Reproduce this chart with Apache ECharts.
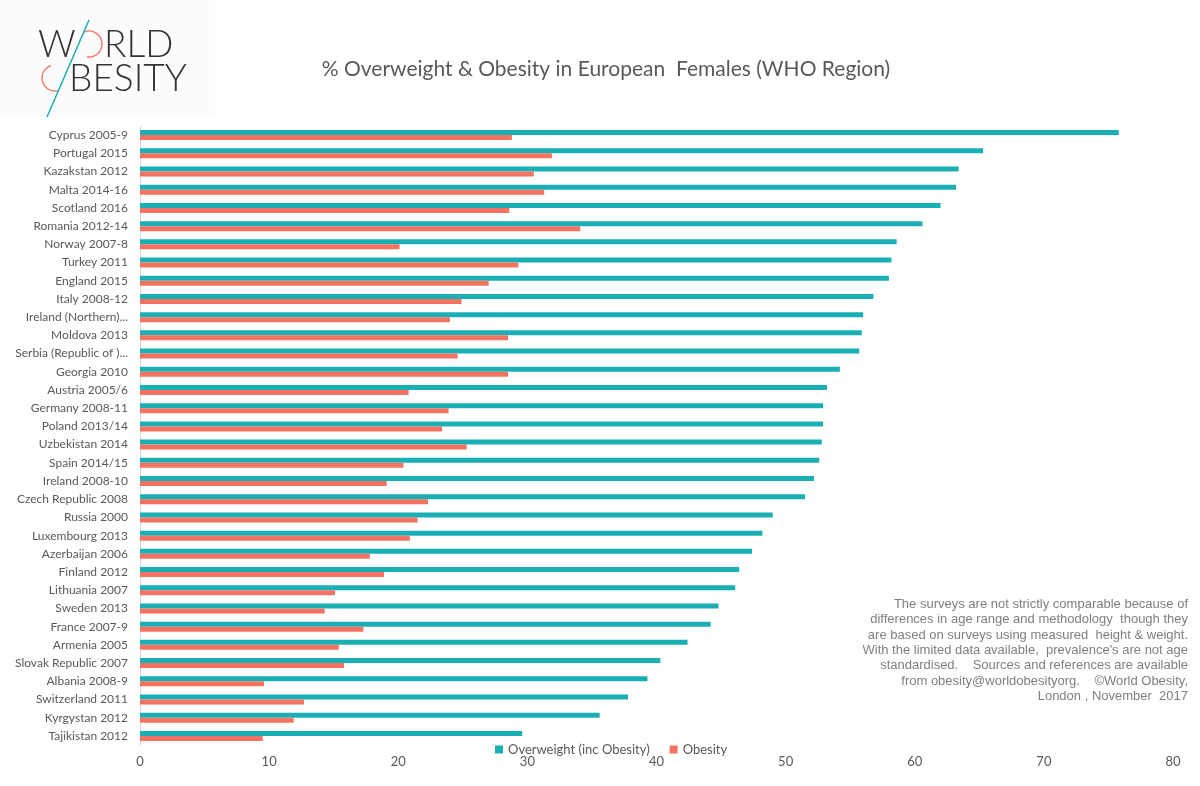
<!DOCTYPE html>
<html><head><meta charset="utf-8">
<script src="https://cdn.jsdelivr.net/npm/echarts@6/dist/echarts.min.js"></script>
<style>html,body{margin:0;padding:0;background:#fff}#c{width:1200px;height:786px}</style>
</head><body><div id="c"></div>
<script>
const categories = ["Cyprus 2005-9","Portugal 2015","Kazakstan 2012","Malta 2014-16","Scotland 2016","Romania 2012-14","Norway 2007-8","Turkey 2011","England 2015","Italy 2008-12","Ireland (Northern)...","Moldova 2013","Serbia (Republic of )...","Georgia 2010","Austria 2005/6","Germany 2008-11","Poland 2013/14","Uzbekistan 2014","Spain 2014/15","Ireland 2008-10","Czech Republic 2008","Russia 2000","Luxembourg 2013","Azerbaijan 2006","Finland 2012","Lithuania 2007","Sweden 2013","France 2007-9","Armenia 2005","Slovak Republic 2007","Albania 2008-9","Switzerland 2011","Kyrgystan 2012","Tajikistan 2012"];
const overweight = [75.8,65.3,63.4,63.2,62.0,60.6,58.6,58.2,58.0,56.8,56.0,55.9,55.7,54.2,53.2,52.9,52.9,52.8,52.6,52.2,51.5,49.0,48.2,47.4,46.4,46.1,44.8,44.2,42.4,40.3,39.3,37.8,35.6,29.6];
const obesity = [28.8,31.9,30.5,31.3,28.6,34.1,20.1,29.3,27.0,24.9,24.0,28.5,24.6,28.5,20.8,23.9,23.4,25.3,20.4,19.1,22.3,21.5,20.9,17.8,18.9,15.1,14.3,17.3,15.4,15.8,9.6,12.7,11.9,9.5];
const xTicks = [0,10,20,30,40,50,60,70,80];
const seriesNames = ["Overweight (inc Obesity)","Obesity"];
const titleText = "% Overweight & Obesity in European  Females (WHO Region)";
const noteLines = ["The surveys are not strictly comparable because of","differences in age range and methodology  though they","are based on surveys using measured  height & weight.","With the limited data available,  prevalence's are not age","standardised.    Sources and references are available","from obesity@worldobesityorg.    ©World Obesity,","London , November  2017"];

const teal = '#1AAFB5', salmon = '#F47262', grey = '#595959';
const noteGraphics = noteLines.map((t, i) => ({type: 'text', x: 1188, y: 598 + i * 15.3,
  style: {text: t, font: '13px "Liberation Sans"', fill: '#7f7f7f', align: 'right', verticalAlign: 'top'}}));
const chart = echarts.init(document.getElementById('c'));
chart.setOption({
  backgroundColor: '#fff',
  animation: false,
  title: {text: titleText, left: 601, top: 54, textAlign: 'center',
    textStyle: {fontFamily: 'Lato', fontSize: 21, fontWeight: 'normal', color: grey}},
  legend: {data: seriesNames, left: 490, top: 738, itemWidth: 8, itemHeight: 8, itemGap: 20, icon: 'rect',
    textStyle: {fontFamily: 'Lato', fontSize: 13, color: grey}},
  grid: {left: 140, right: 27, top: 126, bottom: 41},
  xAxis: {type: 'value', min: 0, max: 80, interval: 10,
    axisLine: {show: false}, axisTick: {show: false}, splitLine: {show: false},
    axisLabel: {color: grey, fontFamily: 'Lato', fontSize: 13, margin: 10,
      formatter: v => xTicks.includes(v) ? String(v) : ''}},
  yAxis: {type: 'category', data: categories, inverse: true,
    axisLine: {show: true, lineStyle: {color: '#d9d9d9'}}, axisTick: {show: false},
    axisLabel: {color: grey, fontFamily: 'Lato', fontSize: 12, margin: 12}},
  series: [
    {name: seriesNames[0], type: 'bar', data: overweight, barWidth: 5, barGap: '0%', itemStyle: {color: teal}},
    {name: seriesNames[1], type: 'bar', data: obesity, barWidth: 5, barGap: '0%', itemStyle: {color: salmon}}
  ],
  graphic: [
    {type: 'rect', shape: {x: 0, y: 0, width: 215, height: 118}, style: {fill: '#fcfcfc'}, z: 0},
    {type: 'text', left: 38, top: 27, style: {text: 'W', font: '300 37px Lato', fill: '#333'}},
    {type: 'arc', shape: {cx: 89, cy: 44, r: 13, startAngle: -Math.PI*0.62, endAngle: Math.PI*0.55}, style: {stroke: salmon, lineWidth: 1.3, fill: null}},
    {type: 'text', left: 104, top: 27, style: {text: 'RLD', font: '300 37px Lato', fill: '#333'}},
    {type: 'arc', shape: {cx: 55, cy: 78, r: 13, startAngle: Math.PI*0.42, endAngle: Math.PI*1.4}, style: {stroke: salmon, lineWidth: 1.3, fill: null}},
    {type: 'text', left: 69, top: 61, style: {text: 'BESITY', font: '300 37px Lato', fill: '#333'}},
    {type: 'line', shape: {x1: 89, y1: 20, x2: 47, y2: 117}, style: {stroke: teal, lineWidth: 1.5}}
  ].concat(noteGraphics)
});
</script></body></html>
